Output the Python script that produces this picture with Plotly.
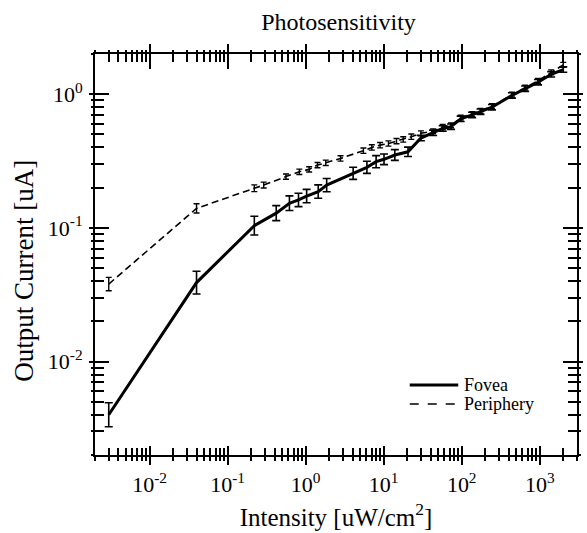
import math
import plotly.graph_objects as go

# ---- data ----
fovea_x = [0.003, 0.04, 0.22, 0.42, 0.62, 0.81, 1.03, 1.45, 1.86, 4.06, 6.1, 8.0, 10.1, 13.9, 20.5,
           30, 43, 57, 73, 97, 136, 174, 244, 440, 650, 950, 1400, 2000]
fovea_y = [0.004, 0.039, 0.104, 0.129, 0.153, 0.162, 0.173, 0.187, 0.209, 0.256, 0.284, 0.313, 0.326, 0.351, 0.371,
           0.47, 0.515, 0.555, 0.572, 0.655, 0.70, 0.74, 0.80, 0.98, 1.10, 1.23, 1.41, 1.53]
fovea_err = [0.09, 0.085, 0.07, 0.056, 0.055, 0.05, 0.05, 0.05, 0.05, 0.045, 0.045, 0.045, 0.04, 0.04, 0.035,
             0.02, 0.02, 0.02, 0.02, 0.02, 0.02, 0.02, 0.02, 0.02, 0.02, 0.02, 0.02, 0.02]  # half-width, decades

periph_x = [0.003, 0.04, 0.22, 0.29, 0.56, 0.83, 1.11, 1.42, 1.81, 2.8, 5.5, 7.05, 9.0, 11.5, 14.6, 17.8, 22.6,
            30, 43, 57, 73, 97, 136, 174, 244, 440, 650, 950, 1400, 2000]
periph_y = [0.038, 0.14, 0.198, 0.209, 0.242, 0.263, 0.274, 0.295, 0.307, 0.331, 0.378, 0.40, 0.416, 0.428, 0.446, 0.459, 0.481,
            0.51, 0.528, 0.57, 0.585, 0.668, 0.71, 0.752, 0.815, 0.995, 1.12, 1.26, 1.46, 1.66]
periph_err = [0.05, 0.035, 0.025, 0.022, 0.02, 0.02, 0.02, 0.02, 0.02, 0.02, 0.02, 0.02, 0.02, 0.02, 0.02, 0.02, 0.02,
              0.018, 0.018, 0.018, 0.018, 0.018, 0.018, 0.018, 0.018, 0.018, 0.018, 0.018, 0.018, 0.018]

x_major = [0.01, 0.1, 1, 10, 100, 1000]
x_major_text = ["10<sup>-2</sup>", "10<sup>-1</sup>", "10<sup>0</sup>", "10<sup>1</sup>", "10<sup>2</sup>", "10<sup>3</sup>"]
y_major = [0.01, 0.1, 1]
y_major_text = ["10<sup>-2</sup>", "10<sup>-1</sup>", "10<sup>0</sup>"]
x_lim = [0.002, 3000]
y_lim = [0.002, 2]

series_names = ["Fovea", "Periphery"]
title_text = "Photosensitivity"
x_title = "Intensity [uW/cm<sup>2</sup>]"
y_title = "Output Current [uA]"

FONT = "Liberation Serif"

# plot area in pixels (for legend / label placement)
PL, PR, PT, PB = 95, 582, 54, 455


def minor_vals(lo, hi):
    out = []
    for k in range(int(math.floor(math.log10(lo))) - 1, int(math.ceil(math.log10(hi))) + 1):
        for m in range(2, 10):
            v = m * 10 ** k
            if lo <= v * 1.0000001 and v <= hi * 1.0000001:
                out.append(v)
    return out


def err_plus(y, e):
    return [v * (10 ** d - 1) for v, d in zip(y, e)]


def err_minus(y, e):
    return [v * (1 - 10 ** (-d)) for v, d in zip(y, e)]


def px_x(p):
    return (p - PL) / (PR - PL)


def px_y(p):
    return (PB - p) / (PB - PT)


xm = minor_vals(*x_lim)
ym = minor_vals(*y_lim)
xr = [math.log10(x_lim[0]), math.log10(x_lim[1])]
yr = [math.log10(y_lim[0]), math.log10(y_lim[1])]

fig = go.Figure()
fig.add_trace(go.Scatter(
    x=fovea_x, y=fovea_y, mode="lines", name=series_names[0],
    line=dict(color="black", width=3),
    error_y=dict(type="data", symmetric=False, array=err_plus(fovea_y, fovea_err),
                 arrayminus=err_minus(fovea_y, fovea_err), color="black", thickness=1.6, width=4),
))
fig.add_trace(go.Scatter(
    x=periph_x, y=periph_y, mode="lines", name=series_names[1],
    line=dict(color="black", width=1.6, dash="7px,4px"),
    error_y=dict(type="data", symmetric=False, array=err_plus(periph_y, periph_err),
                 arrayminus=err_minus(periph_y, periph_err), color="black", thickness=1.4, width=3),
))

# invisible anchors so that the extra (tick-only) axes are drawn
for xa, ya in [("x2", "y"), ("x3", "y"), ("x4", "y"), ("x", "y2"), ("x", "y3"), ("x", "y4")]:
    fig.add_trace(go.Scatter(x=fovea_x[:1], y=fovea_y[:1], xaxis=xa, yaxis=ya, mode="markers",
                             marker=dict(opacity=0, size=1), hoverinfo="skip", showlegend=False))

common = dict(type="log", showgrid=False, zeroline=False, tickcolor="black", tickwidth=1.6)


def mnr(ticks, vals, ln):
    return dict(tickmode="array", tickvals=vals, ticks=ticks, ticklen=ln, tickwidth=1.6, tickcolor="black",
                showgrid=False)


fig.update_layout(
    width=587, height=533,
    margin=dict(l=PL, r=587 - PR, t=PT, b=533 - PB),
    paper_bgcolor="white", plot_bgcolor="white",
    font=dict(family=FONT, color="black", size=20),
    title=dict(text=title_text, x=(PL + PR) / 2 / 587, xanchor="center", y=1 - 22 / 533, yanchor="middle",
               yref="container", font=dict(size=24, family=FONT, color="black")),
    showlegend=False,
    xaxis=dict(**common, range=xr, tickmode="array", tickvals=x_major, ticktext=x_major_text,
               ticks="inside", ticklen=9, showline=True, linecolor="black", linewidth=2,
               tickfont=dict(size=22, family=FONT), ticklabelstandoff=9,
               minor=mnr("inside", xm, 7),
               title=dict(text=x_title, font=dict(size=25, family=FONT), standoff=12)),
    xaxis2=dict(**common, range=xr, overlaying="x", anchor="y", side="bottom", tickmode="array",
                tickvals=x_major, ticks="outside", ticklen=9, showticklabels=False, showline=False,
                minor=mnr("outside", xm, 5)),
    xaxis3=dict(**common, range=xr, overlaying="x", anchor="y", side="top", tickmode="array",
                tickvals=x_major, ticks="inside", ticklen=15, showticklabels=False, showline=True,
                linecolor="black", linewidth=2, minor=mnr("inside", xm, 8)),
    xaxis4=dict(**common, range=xr, overlaying="x", anchor="y", side="top", tickmode="array",
                tickvals=x_major, ticks="outside", ticklen=9, showticklabels=False, showline=False,
                minor=mnr("outside", xm, 3)),
    yaxis=dict(**common, range=yr, tickmode="array", tickvals=y_major, ticktext=y_major_text,
               ticks="inside", ticklen=14, showline=True, linecolor="black", linewidth=2,
               tickfont=dict(size=22, family=FONT), ticklabelstandoff=6,
               minor=mnr("inside", ym, 9)),
    yaxis2=dict(**common, range=yr, overlaying="y", anchor="x", side="left", tickmode="array",
                tickvals=y_major, ticks="outside", ticklen=5, showticklabels=False, showline=False,
                minor=mnr("outside", ym, 3)),
    yaxis3=dict(**common, range=yr, overlaying="y", anchor="x", side="right", tickmode="array",
                tickvals=y_major, ticks="inside", ticklen=14, showticklabels=False, showline=True,
                linecolor="black", linewidth=2, minor=mnr("inside", ym, 9)),
    yaxis4=dict(**common, range=yr, overlaying="y", anchor="x", side="right", tickmode="array",
                tickvals=y_major, ticks="outside", ticklen=5, showticklabels=False, showline=False,
                minor=mnr("outside", ym, 3)),
)

# y-axis title (placed where the reference has it)
fig.add_annotation(text=y_title, xref="paper", yref="paper", x=px_x(23), y=px_y(271),
                   xanchor="center", yanchor="middle", textangle=-90, showarrow=False,
                   font=dict(size=27, family=FONT, color="black"))

# legend drawn as key lines + labels
legend_rows = [(385, dict(color="black", width=3)), (404, dict(color="black", width=1.6, dash="dash"))]
for name, (py, ln) in zip(series_names, legend_rows):
    fig.add_shape(type="line", xref="paper", yref="paper", x0=px_x(413), x1=px_x(462),
                  y0=px_y(py), y1=px_y(py), line=ln)
    fig.add_annotation(text=name, xref="paper", yref="paper", x=px_x(466), y=px_y(py),
                       xanchor="left", yanchor="middle", showarrow=False,
                       font=dict(size=18, family=FONT, color="black"))

fig.write_html("out.html")
